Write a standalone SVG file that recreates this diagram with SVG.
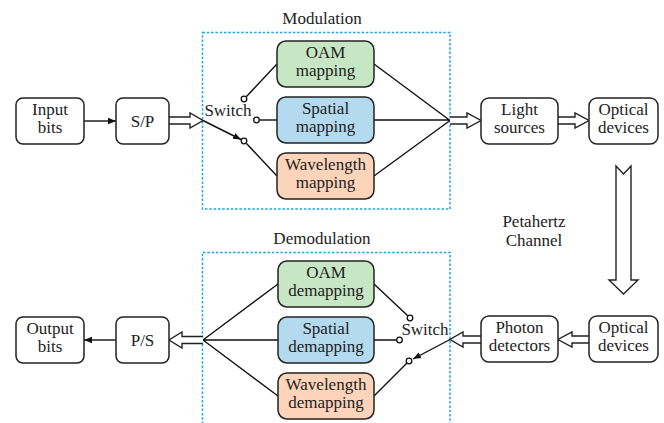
<svg xmlns="http://www.w3.org/2000/svg" width="664" height="423" viewBox="0 0 664 423">
<defs>
<marker id="ah" viewBox="0 0 10 10" refX="10" refY="5" markerWidth="8" markerHeight="8" markerUnits="userSpaceOnUse" orient="auto">
<path d="M0,1 L10,5 L0,9 Z" fill="#111"/>
</marker>
</defs>
<style>
text{font-family:"Liberation Serif","DejaVu Serif",serif;font-size:17px;fill:#222;text-anchor:middle}
.box{fill:#fff;stroke:#222;stroke-width:1.5}
.g{fill:#c6e6c4}.b{fill:#b4daf0}.o{fill:#fcd4ba}
.dash{fill:none;stroke:#1ea7e1;stroke-width:1.5;stroke-dasharray:2.5 1.8}
.ln{fill:none;stroke:#111;stroke-width:1.4}
.hol{fill:#fff;stroke:#222;stroke-width:1.4;stroke-linejoin:miter}
.dot{fill:#fff;stroke:#111;stroke-width:1.3}
</style>
<rect width="664" height="423" fill="#fff"/>

<g id="modulation-frame">
<rect class="dash" x="202.5" y="32.5" width="247.5" height="176.5"/>
<text x="322" y="24">Modulation</text>
</g>
<g id="demodulation-frame">
<path class="dash" d="M202.5,424 V252.5 H450 V424"/>
<text x="322" y="244">Demodulation</text>
</g>

<g id="connectors">
<path class="ln" d="M84,121 H116" marker-end="url(#ah)"/>
<path class="hol" d="M169,117 H190 V113 L203,120.5 L190,128 V124 H169"/>
<path class="ln" d="M203,120.5 L241,139.5" marker-end="url(#ah)"/>
<path class="ln" d="M246.5,96.5 L277,64"/>
<path class="ln" d="M259,120 H277"/>
<path class="ln" d="M246.5,143.5 L277,176"/>
<path class="ln" d="M374,64 L450,120.5 M374,120 H450 M374,176 L450,120.5"/>
<path class="hol" d="M450,117 H467 V113 L481,120.5 L467,128 V124 H450"/>
<path class="hol" d="M558,117 H575 V113 L589,120.5 L575,128 V124 H558"/>
<path class="hol" d="M616,166 L623.5,174 L631,166 V280 H638 L623.5,294 L609,280 H616 Z"/>
<path class="hol" d="M589,336 H572 V332 L558,339.5 L572,347 V343 H589"/>
<path class="hol" d="M481,336 H463 V332 L450,339.5 L463,347 V343 H481"/>
<path class="ln" d="M450,339.5 L413,359" marker-end="url(#ah)"/>
<path class="ln" d="M374,284 L408,316 M374,340 H397 M374,396 L407,363"/>
<path class="ln" d="M278,284 L203,340 M278,340 H203 M278,396 L203,340"/>
<path class="hol" d="M203,336.5 H182 V332 L169,340 L182,348 V343.5 H203"/>
<path class="ln" d="M116,340 H84" marker-end="url(#ah)"/>
<circle class="dot" cx="244" cy="99" r="2.8"/>
<circle class="dot" cx="256.5" cy="120" r="2.8"/>
<circle class="dot" cx="244" cy="141" r="2.8"/>
<circle class="dot" cx="410" cy="318" r="2.8"/>
<circle class="dot" cx="399.5" cy="340" r="2.8"/>
<circle class="dot" cx="409" cy="361" r="2.8"/>
</g>

<g id="switch-top"><text x="228" y="116">Switch</text></g>
<g id="switch-bottom"><text x="425" y="335">Switch</text></g>
<g id="channel-label"><text x="534" y="227">Petahertz</text><text x="534" y="246">Channel</text></g>

<g id="input-bits"><rect class="box" x="16" y="98" width="68" height="46" rx="7"/><text x="50" y="115">Input</text><text x="50" y="133">bits</text></g>
<g id="sp"><rect class="box" x="116" y="98" width="53" height="46" rx="7"/><text x="142.5" y="127">S/P</text></g>
<g id="oam-mapping"><rect class="box g" x="277" y="41" width="97" height="46" rx="9"/><text x="325.5" y="58">OAM</text><text x="325.5" y="76">mapping</text></g>
<g id="spatial-mapping"><rect class="box b" x="277" y="97" width="97" height="46" rx="9"/><text x="325.5" y="114">Spatial</text><text x="325.5" y="132">mapping</text></g>
<g id="wavelength-mapping"><rect class="box o" x="277" y="153" width="97" height="46" rx="9"/><text x="325.5" y="170">Wavelength</text><text x="325.5" y="188">mapping</text></g>
<g id="light-sources"><rect class="box" x="481" y="98" width="77" height="46" rx="8"/><text x="519.5" y="115">Light</text><text x="519.5" y="133">sources</text></g>
<g id="optical-devices-tx"><rect class="box" x="589" y="98" width="69" height="46" rx="8"/><text x="623.5" y="115">Optical</text><text x="623.5" y="133">devices</text></g>

<g id="output-bits"><rect class="box" x="16" y="317" width="68" height="46" rx="7"/><text x="50" y="334">Output</text><text x="50" y="352">bits</text></g>
<g id="ps"><rect class="box" x="116" y="317" width="53" height="46" rx="7"/><text x="142.5" y="346">P/S</text></g>
<g id="oam-demapping"><rect class="box g" x="278" y="261" width="96" height="46" rx="9"/><text x="326" y="278">OAM</text><text x="326" y="296">demapping</text></g>
<g id="spatial-demapping"><rect class="box b" x="278" y="317" width="96" height="46" rx="9"/><text x="326" y="334">Spatial</text><text x="326" y="352">demapping</text></g>
<g id="wavelength-demapping"><rect class="box o" x="278" y="373" width="96" height="46" rx="9"/><text x="326" y="390">Wavelength</text><text x="326" y="408">demapping</text></g>
<g id="photon-detectors"><rect class="box" x="481" y="316" width="77" height="46" rx="8"/><text x="519.5" y="333">Photon</text><text x="519.5" y="351">detectors</text></g>
<g id="optical-devices-rx"><rect class="box" x="589" y="316" width="69" height="46" rx="8"/><text x="623.5" y="333">Optical</text><text x="623.5" y="351">devices</text></g>
</svg>
